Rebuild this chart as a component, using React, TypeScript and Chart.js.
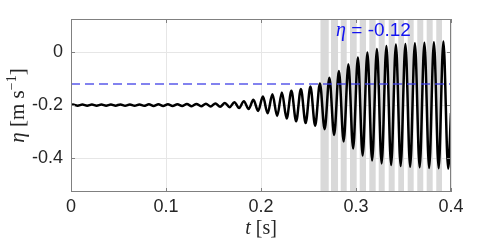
import React, { useEffect, useRef } from "react";
import { Chart, registerables } from "chart.js";

Chart.register(...registerables);

// time of each extremum of the surface elevation signal (s)
const extremaTimes = [
  0, 0.002, 0.007, 0.012, 0.017, 0.022, 0.027, 0.032, 0.037, 0.042, 0.047,
  0.052, 0.057, 0.062, 0.067, 0.072, 0.077, 0.082, 0.087, 0.092, 0.097,
  0.102, 0.107, 0.112, 0.117, 0.122, 0.127, 0.132, 0.137, 0.142, 0.147,
  0.152, 0.157, 0.162, 0.167, 0.172, 0.177, 0.182, 0.187, 0.192, 0.197,
  0.202, 0.207, 0.212, 0.217, 0.222, 0.227, 0.232, 0.237, 0.242, 0.247,
  0.252, 0.257, 0.262, 0.267, 0.272, 0.277, 0.282, 0.287, 0.292, 0.297,
  0.302, 0.307, 0.312, 0.317, 0.322, 0.327, 0.332, 0.337, 0.342, 0.347,
  0.352, 0.357, 0.362, 0.367, 0.372, 0.377, 0.382, 0.387, 0.392, 0.397, 0.4,
];
// eta value at each extremum (m s^-1)
const etaValues = [
  -0.2, -0.198, -0.202, -0.198, -0.202, -0.198, -0.202, -0.198, -0.202, -0.198, -0.202,
  -0.1975, -0.2025, -0.1975, -0.2025, -0.1975, -0.2025, -0.197, -0.203, -0.197, -0.203,
  -0.197, -0.203, -0.1965, -0.2035, -0.196, -0.204, -0.1955, -0.2045, -0.195, -0.205,
  -0.1935, -0.2065, -0.192, -0.208, -0.189, -0.211, -0.185, -0.215, -0.18, -0.222,
  -0.168, -0.231, -0.159, -0.241, -0.152, -0.251, -0.146, -0.261, -0.139, -0.268,
  -0.13, -0.278, -0.118, -0.291, -0.097, -0.313, -0.071, -0.337, -0.046, -0.364,
  -0.02, -0.39, -0.001, -0.409, 0.012, -0.42, 0.023, -0.426, 0.029, -0.43,
  0.031, -0.433, 0.033, -0.435, 0.035, -0.437, 0.037, -0.438, 0.04, -0.44, -0.23,
];

const thresholdTimes = [0, 0.4];
const thresholdValue = -0.12;

const bandStarts = [
  0.2626, 0.2737, 0.2839, 0.2937, 0.3039, 0.314, 0.3239, 0.3344, 0.3445, 0.3544,
  0.3645, 0.3744, 0.3845,
];
const bandEnds = [
  0.2713, 0.2811, 0.2902, 0.3007, 0.3105, 0.3207, 0.3302, 0.3407, 0.3505, 0.3607,
  0.3708, 0.3807, 0.3905,
];

const xTicks = [0, 0.1, 0.2, 0.3, 0.4];
const xTickLabels = ["0", "0.1", "0.2", "0.3", "0.4"];
const yTicks = [0, -0.2, -0.4];
const yTickLabels = ["0", "-0.2", "-0.4"];

const annotationX = 0.279;
const annotationY = 0.06;
const annotationSymbol = "η";
const annotationText = " = -0.12";

const TEXT = "#262626";
const FRAME = "#808080";
const SERIF = "'Liberation Serif', 'Times New Roman', serif";
const SANS = "'Liberation Sans', Arial, Helvetica, sans-serif";

const decorPlugin = {
  id: "decor",
  beforeDatasetsDraw(chart: any) {
    const { ctx, chartArea, scales } = chart;
    const x = scales.x;
    ctx.save();
    ctx.fillStyle = "#d9d9d9";
    bandStarts.forEach((s, i) => {
      const x0 = x.getPixelForValue(s);
      const x1 = x.getPixelForValue(bandEnds[i]);
      ctx.fillRect(x0, chartArea.top, x1 - x0, chartArea.bottom - chartArea.top);
    });
    ctx.restore();
  },
  afterDatasetsDraw(chart: any) {
    const { ctx, chartArea, scales } = chart;
    const x = scales.x;
    const y = scales.y;
    const { left, right, top, bottom } = chartArea;
    ctx.save();
    // frame
    ctx.strokeStyle = FRAME;
    ctx.lineWidth = 1;
    ctx.strokeRect(Math.round(left) + 0.5, Math.round(top) + 0.5, Math.round(right - left) - 1, Math.round(bottom - top) - 1);
    // inward ticks
    const tl = 4;
    ctx.beginPath();
    xTicks.forEach((v) => {
      const px = Math.round(x.getPixelForValue(v)) + 0.5;
      ctx.moveTo(px, bottom);
      ctx.lineTo(px, bottom - tl);
      ctx.moveTo(px, top);
      ctx.lineTo(px, top + tl);
    });
    yTicks.forEach((v) => {
      const py = Math.round(y.getPixelForValue(v)) + 0.5;
      ctx.moveTo(left, py);
      ctx.lineTo(left + tl, py);
      ctx.moveTo(right, py);
      ctx.lineTo(right - tl, py);
    });
    ctx.stroke();

    // annotation
    const ax = x.getPixelForValue(annotationX);
    const ay = y.getPixelForValue(annotationY);
    ctx.fillStyle = "rgb(20,20,240)";
    ctx.textBaseline = "alphabetic";
    ctx.textAlign = "left";
    ctx.font = `italic 20px ${SERIF}`;
    ctx.fillText(annotationSymbol, ax, ay);
    const w = ctx.measureText(annotationSymbol).width;
    ctx.font = `19px ${SANS}`;
    ctx.fillText(annotationText, ax + w, ay);
    ctx.restore();
  },
  afterDraw(chart: any) {
    const { ctx, chartArea } = chart;
    ctx.save();
    ctx.fillStyle = TEXT;
    ctx.textBaseline = "alphabetic";
    ctx.textAlign = "left";
    // x title: t [s]
    {
      const parts = [
        { t: "t", f: `italic 20px ${SERIF}`, dy: 0 },
        { t: " [s]", f: `20px ${SERIF}`, dy: 0 },
      ];
      let total = 0;
      parts.forEach((p) => {
        ctx.font = p.f;
        total += ctx.measureText(p.t).width;
      });
      let cx = (chartArea.left + chartArea.right) / 2 - total / 2;
      const by = 234;
      parts.forEach((p) => {
        ctx.font = p.f;
        ctx.fillText(p.t, cx, by + p.dy);
        cx += ctx.measureText(p.t).width;
      });
    }
    // y title: eta [m s^-1]
    {
      const parts = [
        { t: "η", f: `italic 21px ${SERIF}`, dy: 0 },
        { t: " [m s", f: `21px ${SERIF}`, dy: 0 },
        { t: "−1", f: `14px ${SERIF}`, dy: -8 },
        { t: "]", f: `21px ${SERIF}`, dy: 0 },
      ];
      let total = 0;
      parts.forEach((p) => {
        ctx.font = p.f;
        total += ctx.measureText(p.t).width;
      });
      ctx.translate(24, (chartArea.top + chartArea.bottom) / 2);
      ctx.rotate(-Math.PI / 2);
      let cx = -total / 2;
      parts.forEach((p) => {
        ctx.font = p.f;
        ctx.fillText(p.t, cx, p.dy);
        cx += ctx.measureText(p.t).width;
      });
    }
    ctx.restore();
  },
};

export default function App() {
  const canvasRef = useRef<HTMLCanvasElement | null>(null);

  useEffect(() => {
    document.body.style.margin = "0";
    const canvas = canvasRef.current;
    if (!canvas) return;
    const chart = new Chart(canvas, {
      type: "line",
      data: {
        datasets: [
          {
            label: "threshold",
            data: thresholdTimes.map((t) => ({ x: t, y: thresholdValue })),
            borderColor: "rgba(60,60,230,0.85)",
            borderWidth: 1.5,
            borderDash: [9, 5],
            pointRadius: 0,
            fill: false,
          },
          {
            label: "eta",
            data: extremaTimes.map((t, i) => ({ x: t, y: etaValues[i] })),
            borderColor: "#000000",
            borderWidth: 2.5,
            pointRadius: 0,
            cubicInterpolationMode: "monotone",
            fill: false,
          },
        ],
      },
      options: {
        animation: false,
        responsive: false,
        devicePixelRatio: 1,
        layout: { padding: { top: 19, right: 47, left: 0, bottom: 0 } },
        plugins: {
          legend: { display: false },
          tooltip: { enabled: false },
        },
        scales: {
          x: {
            type: "linear",
            min: 0,
            max: 0.4,
            afterBuildTicks: (scale: any) => {
              scale.ticks = xTicks.map((v) => ({ value: v }));
            },
            afterFit: (scale: any) => {
              scale.height = 57;
            },
            ticks: {
              callback: (_v: any, i: number) => xTickLabels[i],
              font: { family: SANS, size: 18 },
              color: TEXT,
              padding: 4,
              maxRotation: 0,
              autoSkip: false,
            },
            grid: { color: "#e6e6e6", lineWidth: 1, drawTicks: false },
            border: { display: false },
          },
          y: {
            type: "linear",
            min: -0.528,
            max: 0.125,
            afterBuildTicks: (scale: any) => {
              scale.ticks = yTicks.map((v) => ({ value: v }));
            },
            afterFit: (scale: any) => {
              scale.width = 71;
            },
            ticks: {
              callback: (_v: any, i: number) => yTickLabels[i],
              font: { family: SANS, size: 18 },
              color: TEXT,
              padding: 8,
              autoSkip: false,
            },
            grid: { color: "#e6e6e6", lineWidth: 1, drawTicks: false },
            border: { display: false },
          },
        },
      } as any,
      plugins: [decorPlugin],
    });
    return () => chart.destroy();
  }, []);

  return (
    <div style={{ position: "absolute", left: 0, top: 0, width: 498, height: 249, background: "#fff" }}>
      <canvas ref={canvasRef} width={498} height={249} style={{ width: 498, height: 249, display: "block" }} />
    </div>
  );
}
